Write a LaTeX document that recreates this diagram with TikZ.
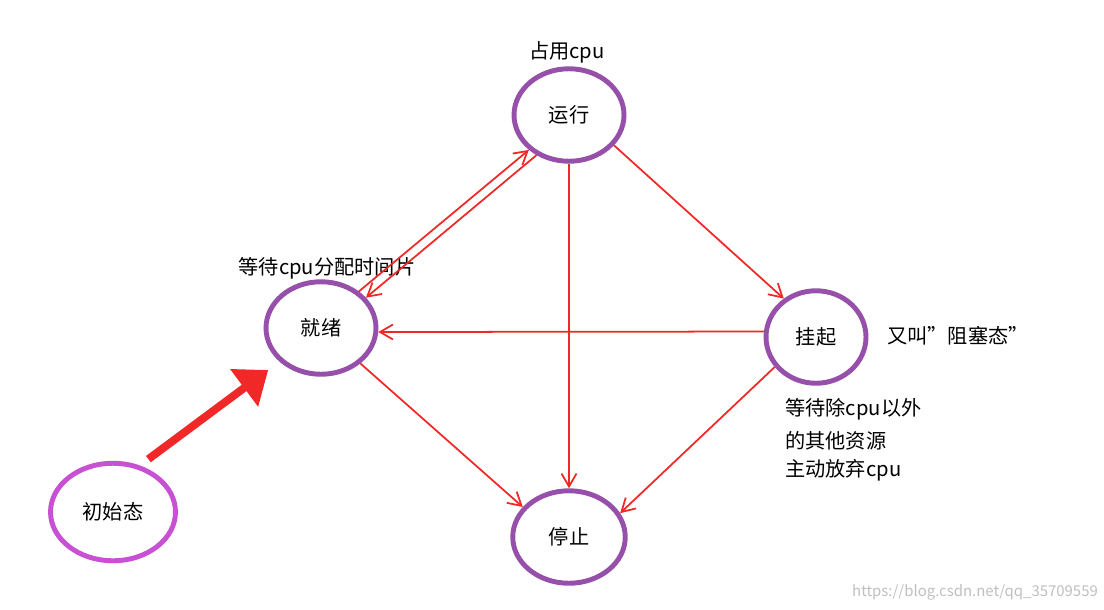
\documentclass[tikz,border=0pt]{standalone}
\usepackage{fontspec}
\setmainfont{Noto Sans CJK SC}
\usetikzlibrary{shapes.geometric,arrows.meta}
\begin{document}
\begin{tikzpicture}[x=0.02cm,y=-0.02cm]
    % colours
    \definecolor{ringpurple}{RGB}{150,80,170}
    \definecolor{ringpink}{RGB}{200,80,210}
    \definecolor{linkred}{RGB}{240,40,40}
    \tikzset{
        state/.style={ellipse, draw=ringpurple, line width=2.8pt, font=\fontsize{11.5}{13}\selectfont},
        link/.style={draw=linkred, line width=1pt, -{Straight Barb[length=2.6mm,width=3mm]}},
        note/.style={font=\fontsize{11.5}{13}\selectfont, inner sep=0pt}
    }
    \useasboundingbox (0,0) rectangle (1104,609);

    % states
    \node[state, minimum width=2.2cm, minimum height=1.85cm] (run) at (569,115) {运行};
    \node[state, minimum width=2.2cm, minimum height=1.85cm] (ready) at (321,328) {就绪};
    \node[state, minimum width=2cm, minimum height=1.85cm] (hang) at (816,337) {挂起};
    \node[state, minimum width=2.25cm, minimum height=1.85cm] (stop) at (569,537) {停止};
    \node[state, draw=ringpink, minimum width=2.5cm, minimum height=1.95cm] (init) at (113,512) {初始态};

    % labels
    \node[note] (tcpu) at (567,52) {占用cpu};
    \node[note] (twait) at (327,268) {等待cpu分配时间片};
    \node[note, anchor=west] (talias) at (887,336) {又叫”阻塞态”};
    \node[note, anchor=west] (tl1) at (785,409) {等待除cpu以外};
    \node[note, anchor=west] (tl2) at (785,441) {的其他资源};
    \node[note, anchor=west] (tl3) at (785,470) {主动放弃cpu};
    \node[font=\fontsize{8.5}{10}\selectfont, text=black!25, inner sep=0pt] (mark) at (975,592) {https://blog.csdn.net/qq\_35709559};

    % transitions
    \draw[link] (ready.44) -- (run.221);
    \draw[link] (run.231) -- (ready.34);
    \draw[link] (run.south) -- (stop.north);
    \draw[link] (run.-34) -- (hang.130);
    \draw[link] (hang.174) -- (ready.-4);
    \draw[link] (ready.-42) -- (stop.147);
    \draw[link] (hang.216) -- (stop.25);
    \draw[draw=linkred, line width=4.5pt, -{Triangle[length=6mm,width=9mm]}, shorten <=6pt, shorten >=8pt] (init.60) -- (ready.219);
\end{tikzpicture}
\end{document}
